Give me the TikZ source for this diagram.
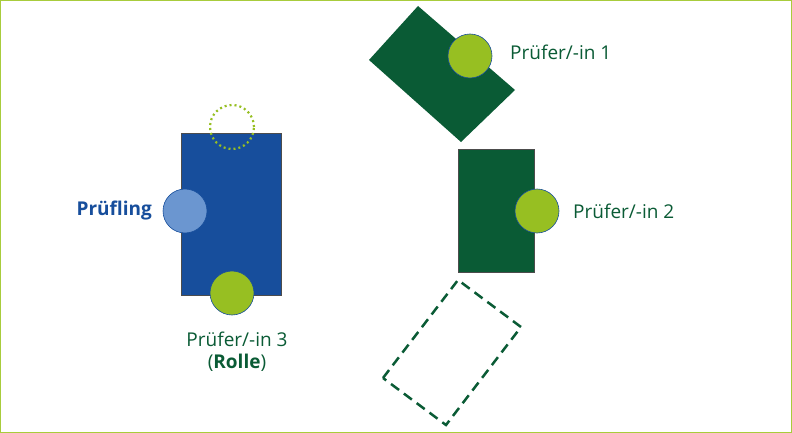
\documentclass[tikz,border=0pt]{standalone}
\usepackage{fontspec}
\setmainfont{Open Sans}
\definecolor{pblue}{HTML}{174E9C}
\definecolor{lblue}{HTML}{6B96D0}
\definecolor{dgreen}{HTML}{0A5B35}
\definecolor{lgreen}{HTML}{97BF22}
\definecolor{frame}{HTML}{A8CC3C}
\begin{document}
\begin{tikzpicture}[x=1pt,y=-1pt,
  disc/.style={circle,draw=pblue,line width=0.6pt,minimum size=44pt,inner sep=0pt},
  lbl/.style={text=dgreen,font=\fontsize{19}{22}\selectfont,inner sep=0pt}]
\draw[frame,line width=1pt,fill=white] (0.5,0.5) rectangle (791.5,432.5);
\node[draw=black!70,fill=pblue,line width=0.6pt,minimum width=100pt,minimum height=162pt,inner sep=0pt] (dut) at (231,214) {};
\node[disc,fill=lblue] (c0) at (185,211) {};
\node[circle,draw=lgreen,line width=2.2pt,dash pattern=on 2pt off 3pt,minimum size=44pt,inner sep=0pt] (dot) at (232,127) {};
\node[disc,fill=lgreen] (c3) at (232,293) {};
\node[text=pblue,font=\bfseries\fontsize{19}{22}\selectfont,anchor=east,inner sep=0pt] (t0) at (152,211) {Prüfling};
\node[lbl,align=center] (t3) at (237,352) {Prüfer/-in 3\\(\textbf{Rolle})};
\node[draw=black!70,fill=dgreen,line width=0.6pt,minimum width=76pt,minimum height=123pt,inner sep=0pt] (r2) at (496,210.5) {};
\node[disc,fill=lgreen] (c2) at (537,211) {};
\node[lbl,anchor=west] (t2) at (573,211) {Prüfer/-in 2};
\fill[dgreen] (369,60) -- (418,6) -- (515,90) -- (461,142) -- cycle;
\node[disc,fill=lgreen] (c1) at (470,56) {};
\node[lbl,anchor=west] (t1) at (510,52) {Prüfer/-in 1};
\draw[dgreen,line width=2.5pt,dash pattern=on 10pt off 6pt] (383,378) -- (458,280) -- (521,327) -- (446,425) -- cycle;
\end{tikzpicture}
\end{document}
